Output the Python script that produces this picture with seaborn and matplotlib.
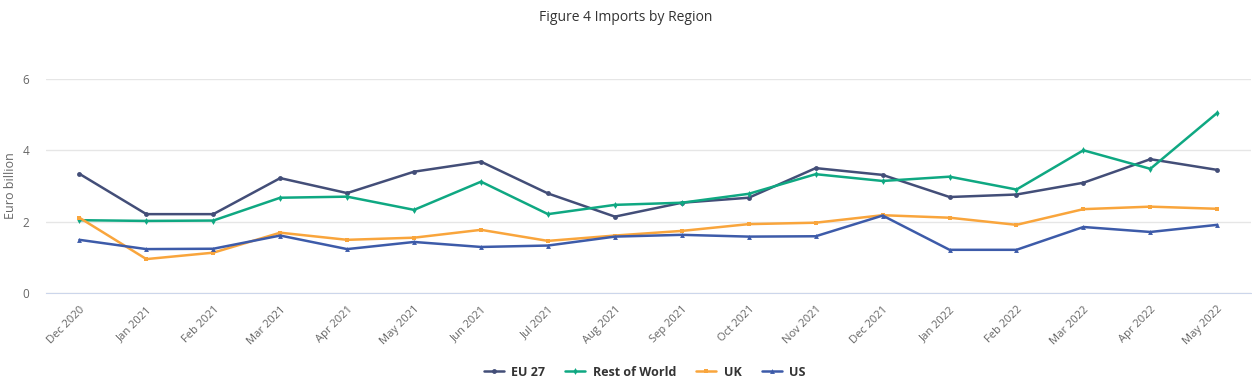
import seaborn as sns
import pandas as pd
import matplotlib.pyplot as plt

months = ['Dec 2020', 'Jan 2021', 'Feb 2021', 'Mar 2021', 'Apr 2021', 'May 2021',
          'Jun 2021', 'Jul 2021', 'Aug 2021', 'Sep 2021', 'Oct 2021', 'Nov 2021',
          'Dec 2021', 'Jan 2022', 'Feb 2022', 'Mar 2022', 'Apr 2022', 'May 2022']

eu27 = [3.34, 2.21, 2.21, 3.22, 2.80, 3.40, 3.68, 2.79, 2.14, 2.53, 2.67, 3.50,
        3.31, 2.69, 2.76, 3.09, 3.75, 3.45]
rest_of_world = [2.04, 2.02, 2.03, 2.67, 2.70, 2.33, 3.12, 2.21, 2.47, 2.53, 2.78, 3.33,
                 3.14, 3.26, 2.90, 4.00, 3.48, 5.05]
uk = [2.11, 0.95, 1.13, 1.69, 1.49, 1.55, 1.77, 1.46, 1.61, 1.74, 1.93, 1.97,
      2.18, 2.11, 1.91, 2.35, 2.42, 2.36]
us = [1.49, 1.23, 1.24, 1.61, 1.23, 1.43, 1.29, 1.33, 1.58, 1.63, 1.58, 1.59,
      2.17, 1.21, 1.21, 1.85, 1.71, 1.91]

regions = ['EU 27', 'Rest of World', 'UK', 'US']
colors = ['#434e78', '#0fa882', '#f9a53c', '#3d5ba9']

rows = []
for name, vals in zip(regions, [eu27, rest_of_world, uk, us]):
    for i, v in enumerate(vals):
        rows.append({'pos': i, 'value': v, 'region': name})
df = pd.DataFrame(rows)

sns.set_style('white')
plt.rcParams['font.family'] = ['Open Sans', 'DejaVu Sans']

fig = plt.figure(figsize=(12.52, 3.85), dpi=100)
ax = fig.add_axes([0.0367, 0.239, 0.9623, 0.556])

sns.lineplot(data=df, x='pos', y='value', hue='region', style='region',
             palette=colors, markers=['o', 'd', 's', '^'], dashes=False,
             linewidth=1.8, markersize=3.5, markeredgewidth=0, ax=ax)

ax.set_xlim(-0.5, 17.5)
ax.set_ylim(0, 6)
ax.set_yticks([0, 2, 4, 6])
ax.set_xticks(range(len(months)))
ax.set_xticklabels(months, rotation=45, ha='right', rotation_mode='anchor')
ax.tick_params(axis='x', labelsize=8, colors='#666666', length=0, pad=8)
ax.tick_params(axis='y', labelsize=8.5, colors='#666666', length=0, pad=12)
ax.grid(axis='y', color='#e6e6e6', linewidth=1)
for s in ['top', 'right', 'left']:
    ax.spines[s].set_visible(False)
ax.spines['bottom'].set_color('#ccd6eb')
ax.set_axisbelow(True)

ax.set_xlabel('')
ax.set_ylabel('Euro billion', fontsize=9, color='#666666')
ax.yaxis.set_label_coords(-0.024, 0.5)

handles, labels = ax.get_legend_handles_labels()
ax.get_legend().remove()
leg = fig.legend(handles, labels, loc='center', bbox_to_anchor=(0.515, 0.033),
                 ncol=4, frameon=False, handlelength=1.6, columnspacing=1.6,
                 handletextpad=0.6, prop={'weight': 'bold', 'size': 9})
for t in leg.get_texts():
    t.set_color('#333333')

fig.suptitle('Figure 4 Imports by Region', fontsize=10, color='#333333', y=0.975)

fig.savefig('out.png', dpi=100)
